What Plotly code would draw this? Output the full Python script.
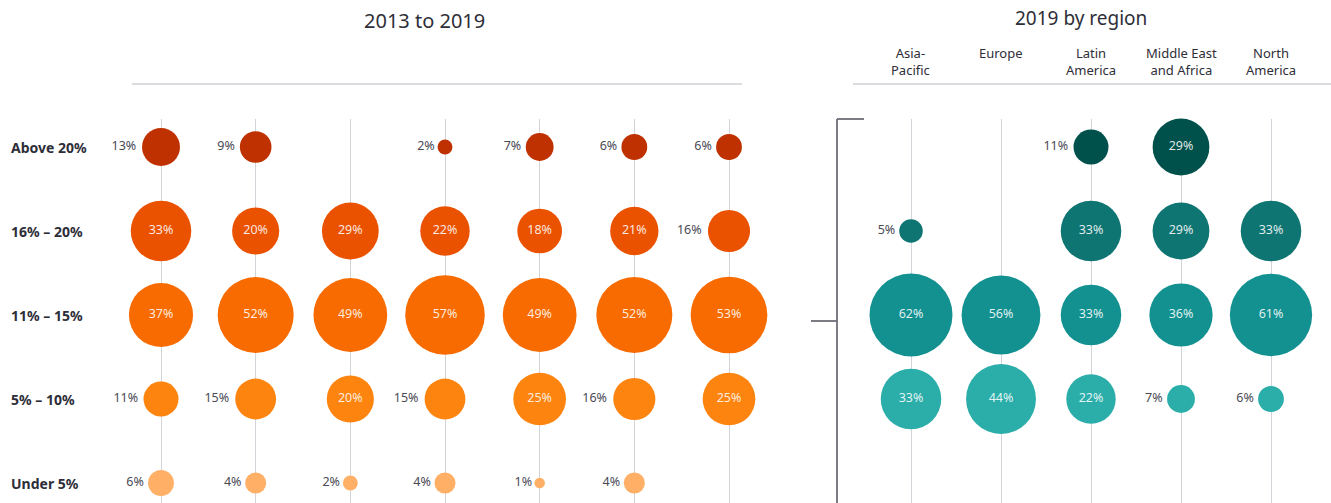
import plotly.graph_objects as go

# rows (profit ranges) and columns
rows = ['Above 20%', '16% – 20%', '11% – 15%', '5% – 10%', 'Under 5%']
years = ['2013', '2014', '2015', '2016', '2017', '2018', '2019']
regions = ['Asia-<br>Pacific', 'Europe', 'Latin<br>America', 'Middle East<br>and Africa', 'North<br>America']

# share of respondents by year (None = no bubble)
above_20 = [13, 9, None, 2, 7, 6, 6]
from_16_to_20 = [33, 20, 29, 22, 18, 21, 16]
from_11_to_15 = [37, 52, 49, 57, 49, 52, 53]
from_5_to_10 = [11, 15, 20, 15, 25, 16, 25]
under_5 = [6, 4, 2, 4, 1, 4, None]

# 2019 by region
region_above_20 = [None, None, 11, 29, None]
region_16_to_20 = [5, None, 33, 29, 33]
region_11_to_15 = [62, 56, 33, 36, 61]
region_5_to_10 = [33, 44, 22, 7, 6]

year_series = [above_20, from_16_to_20, from_11_to_15, from_5_to_10, under_5]
region_series = [region_above_20, region_16_to_20, region_11_to_15, region_5_to_10]

orange = ['#BF3100', '#EA5200', '#F76B00', '#FD840E', '#FFB066']
teal = ['#00514B', '#0F7573', '#139191', '#2BAEAA']

FONT = 'Noto Sans'
DARK = '#2E2E38'
LABEL = '#4A4A55'
INSIDE = 'rgba(255,255,255,0.88)'
SIZEREF = 0.018

W, H = 1331, 503


def px(x):
    return x / W


def py(y):
    return 1 - y / H


def bubble_trace(cats, values, row, color, xaxis):
    xs, ys, vs, txt, pos, tcol = [], [], [], [], [], []
    for c, v in zip(cats, values):
        if v is None:
            continue
        xs.append(c)
        ys.append(row)
        vs.append(v)
        txt.append(f'{v}%')
        inside = v >= 17
        pos.append('middle center' if inside else 'middle left')
        tcol.append(INSIDE if inside else LABEL)
    return go.Scatter(
        x=xs, y=ys, xaxis=xaxis, yaxis='y',
        mode='markers+text', text=txt, textposition=pos,
        textfont=dict(family=FONT, size=12.5, color=tcol),
        marker=dict(size=vs, sizemode='area', sizeref=SIZEREF, color=color,
                    line=dict(width=0), opacity=1),
        showlegend=False, hoverinfo='skip', cliponaxis=False,
    )


fig = go.Figure()
for row, vals, col in zip(rows, year_series, orange):
    fig.add_trace(bubble_trace(years, vals, row, col, 'x'))
for row, vals, col in zip(rows, region_series, teal):
    fig.add_trace(bubble_trace(regions, vals, row, col, 'x2'))

grid = dict(showgrid=True, gridcolor='#D3D3DA', gridwidth=1, zeroline=False,
            showticklabels=False, ticks='', showline=False, type='category', fixedrange=True)

# left: columns at 161..729 px, domain 132..742 px
unit_l = (729 - 161) / 6
fig.update_layout(
    xaxis=dict(grid, categoryarray=years, categoryorder='array', domain=[px(132), px(742)],
               range=[-(161 - 132) / unit_l, 6 + (742 - 729) / unit_l]),
)
# right: columns at 911..1271 px, domain 853..1331 px
unit_r = (1271 - 911) / 4
fig.update_layout(
    xaxis2=dict(grid, categoryarray=regions, categoryorder='array', domain=[px(853), 1],
                range=[-(911 - 853) / unit_r, 4 + (1331 - 1271) / unit_r], anchor='y'),
)
# rows at 147..483 px, plot area 119..503 px
top_row, bottom_row = 147, 483
unit_y = (bottom_row - top_row) / 4
fig.update_layout(
    yaxis=dict(type='category', categoryarray=rows, categoryorder='array',
               domain=[0, py(119)], showgrid=False, zeroline=False, showticklabels=False,
               range=[4 + (503 - bottom_row) / unit_y, -(top_row - 119) / unit_y], fixedrange=True),
)

annotations = [
    dict(text='2013 to 2019', x=px(424), y=py(21), xref='paper', yref='paper',
         showarrow=False, font=dict(family=FONT, size=20, color=DARK), xanchor='center', yanchor='middle'),
    dict(text='2019 by region', x=px(1081), y=py(18), xref='paper', yref='paper',
         showarrow=False, font=dict(family=FONT, size=19, color=DARK), xanchor='center', yanchor='middle'),
]
for yr in years:
    annotations.append(dict(text=yr, x=yr, y=py(51), xref='x', yref='paper', showarrow=False,
                            font=dict(family=FONT, size=14, color=DARK), xanchor='center', yanchor='middle'))
for rg in regions:
    annotations.append(dict(text=rg, x=rg, y=py(42), xref='x2', yref='paper', showarrow=False,
                            font=dict(family=FONT, size=13, color=DARK), xanchor='center', yanchor='top'))
for r in rows:
    annotations.append(dict(text=f'<b>{r}</b>', x=px(9), y=r, xref='paper', yref='y', showarrow=False,
                            font=dict(family=FONT, size=14, color=DARK), xanchor='left', yanchor='middle'))

line_grey = dict(color='#D0D0D6', width=1.5)
bracket = dict(color='#6E6E78', width=1.8)
shapes = [
    dict(type='line', xref='paper', yref='paper', x0=px(132), x1=px(742), y0=py(84), y1=py(84), line=line_grey),
    dict(type='line', xref='paper', yref='paper', x0=px(853), x1=1, y0=py(84), y1=py(84), line=line_grey),
    dict(type='line', xref='paper', yref='paper', x0=px(837), x1=px(837), y0=py(119), y1=0, line=bracket),
    dict(type='line', xref='paper', yref='paper', x0=px(837), x1=px(864), y0=py(119), y1=py(119), line=bracket),
    dict(type='line', xref='paper', yref='paper', x0=px(811), x1=px(837), y0=py(321), y1=py(321), line=bracket),
]

fig.update_layout(
    width=W, height=H, margin=dict(l=0, r=0, t=0, b=0),
    paper_bgcolor='white', plot_bgcolor='white',
    annotations=annotations, shapes=shapes,
    font=dict(family=FONT, color=DARK),
)

fig.write_html("out.html", config={'displayModeBar': False},
               post_script="document.body.style.margin='0';")
